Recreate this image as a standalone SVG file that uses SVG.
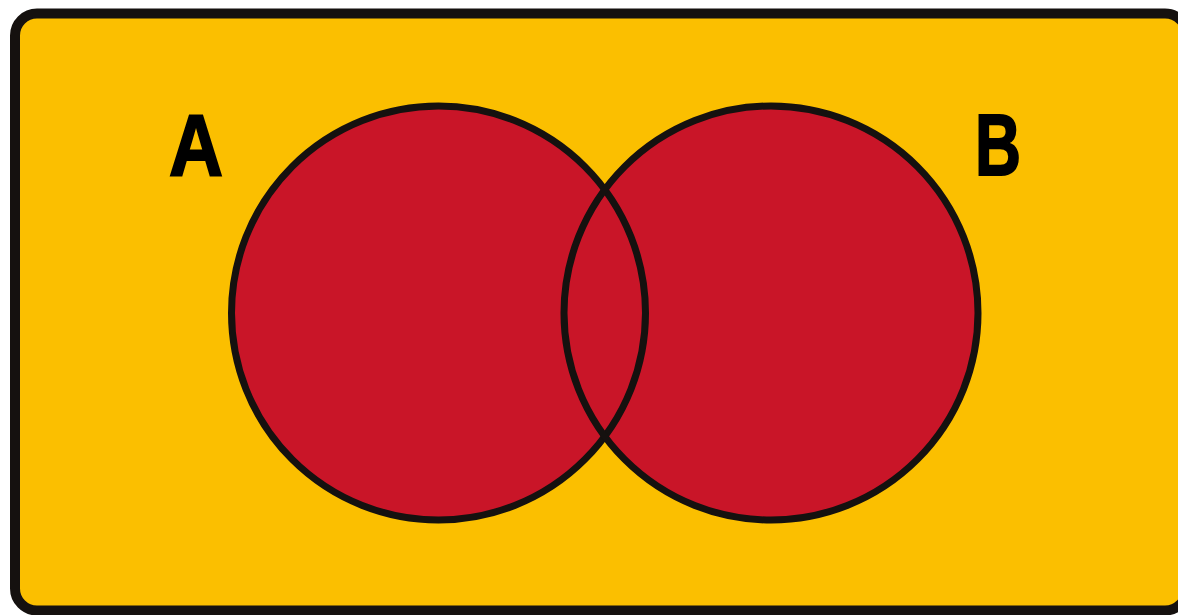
<svg xmlns="http://www.w3.org/2000/svg" width="1178" height="615" viewBox="0 0 1178 615">
<style>
.fill{fill:#C91528;stroke:none}
.outline{fill:none;stroke:#15110F;stroke-width:7}
.lbl{font-family:"Liberation Sans",Arial,sans-serif;font-weight:700;font-size:88px;fill:#000;stroke:#000;stroke-width:2;text-anchor:middle}
</style>
<rect width="1178" height="615" fill="#FFFFFF"/>
<g id="universe">
<rect x="15" y="13.5" width="1172" height="597" rx="22" fill="#FBBF00" stroke="#15110F" stroke-width="10"/>
</g>
<g id="setA">
<circle class="fill" cx="438.5" cy="313" r="207"/>
<text class="lbl" x="196" y="175" textLength="54" lengthAdjust="spacingAndGlyphs">A</text>
</g>
<g id="setB">
<circle class="fill" cx="771" cy="313" r="207"/>
<text class="lbl" x="998" y="175" textLength="46" lengthAdjust="spacingAndGlyphs">B</text>
</g>
<g id="connectors">
<circle class="outline" cx="438.5" cy="313" r="207"/>
<circle class="outline" cx="771" cy="313" r="207"/>
</g>
</svg>
